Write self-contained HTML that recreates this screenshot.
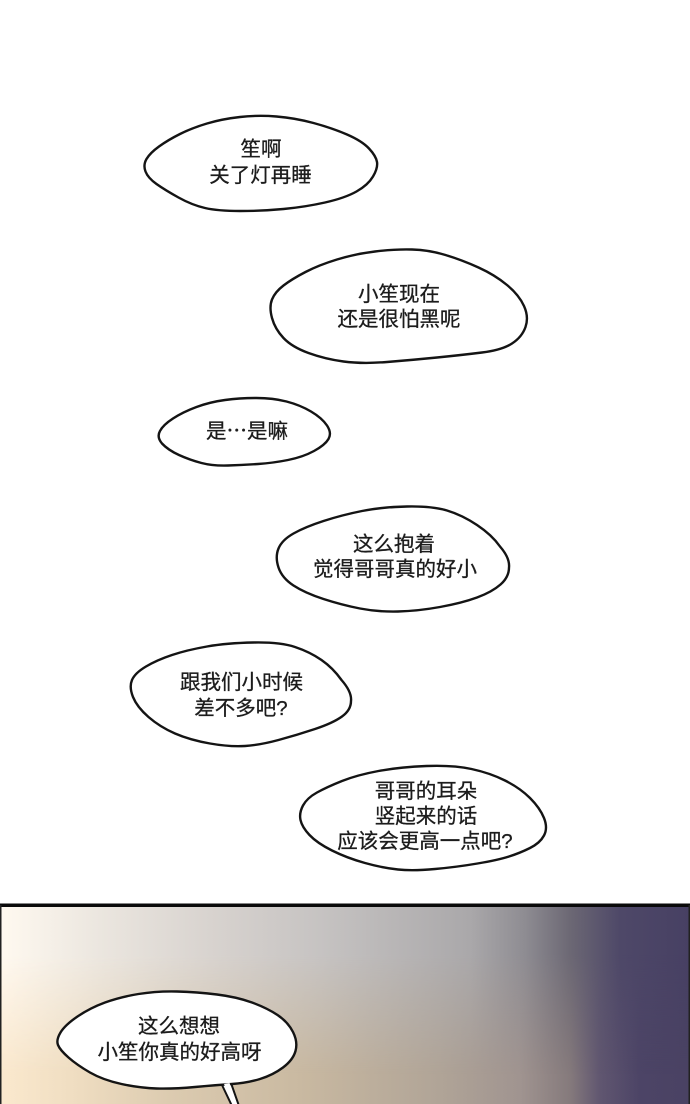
<!DOCTYPE html>
<html><head><meta charset="utf-8">
<style>
html,body{margin:0;padding:0;background:#fff}
#p{position:relative;width:690px;height:1104px;overflow:hidden;background:#fff}
.g{position:absolute;left:0;top:905px;width:690px;height:199px}
#b{background:linear-gradient(90deg,#fbe9ce 0,#f0dec2 70px,#dccbb0 170px,#c9b9a1 300px,#b0a497 440px,#a09490 520px,#857a7c 570px,#605670 600px,#4c4466 640px,#4a4263 690px)}
#t{background:linear-gradient(90deg,#fff9f0 0,#ebe6df 100px,#d8d3cf 210px,#c6c3c2 320px,#aaa8aa 470px,#8e8c92 525px,#6c6874 570px,#4e4868 620px,#474063 690px);
-webkit-mask-image:linear-gradient(180deg,#000 0,#000 25%,transparent 85%);mask-image:linear-gradient(180deg,#000 0,#000 25%,transparent 85%)}
svg{position:absolute;left:0;top:0}
text{font-family:"Liberation Sans","Noto Sans CJK SC",sans-serif;font-size:20.500px;fill:#1c1c1c;stroke:#1c1c1c;stroke-width:.3;text-anchor:middle}
.s{fill:#fff;stroke:#141414;stroke-width:2.400;stroke-linejoin:round}
</style></head><body><div id="p">
<div class="g" id="b"></div><div class="g" id="t"></div>
<svg width="690" height="1104" viewBox="0 0 690 1104">
<rect x="0" y="903.500" width="690" height="3.500" fill="#0a0a0a"/>
<rect x="0" y="905" width="1.500" height="199" fill="#222"/>
<rect x="688.500" y="905" width="1.500" height="199" fill="#222"/>

<path class="s" d="M145.500 171.500Q143 165 146.500 159Q150 153 159 146.500Q168 140 180 134Q192 128 207 123.500Q222 119 240 117Q258 115 276.500 116.500Q295 118 313.500 123Q332 128 347 134.500Q362 141 369 148.500Q376 156 377 162Q378 168 373 176.500Q368 185 356.500 191.500Q345 198 325 202.500Q305 207 283.500 209Q262 211 240 211Q218 211 205 208Q192 205 178.500 197.500Q165 190 156.500 184Q148 178 145.500 171.500Z"/>
<path class="s" d="M272 318Q269 307 272 299.500Q275 292 283.500 285.500Q292 279 305.500 272Q319 265 337 259.500Q355 254 375 251.500Q395 249 412 249.500Q429 250 445.500 255Q462 260 478.500 267.500Q495 275 507 285Q519 295 524 306Q529 317 525.500 327Q522 337 512 343.500Q502 350 482 352.500Q462 355 437 357.500Q412 360 387 362Q362 364 343.500 361.500Q325 359 308.500 353Q292 347 283.500 338Q275 329 272 318Z"/>
<path class="s" d="M162 443.500Q156.500 437 160 431Q163 425 173 418.500Q183 412 196.500 407Q210 402 225 400Q240 398 256.500 398Q273 398 286.500 401.500Q300 405 311 411.500Q322 418 327 425.500Q332 433 328.500 439Q325 445 314 451Q303 457 288 460Q273 463 258 464Q243 465 228 465.500Q213 466 201.500 463Q190 460 179 455Q168 450 162 443.500Z"/>
<path class="s" d="M278.500 567.500Q275 557 278.500 548.500Q282 540 293.500 533.500Q305 527 323.500 521Q342 515 362 511Q382 507 407 506.500Q432 506 447 510.500Q462 515 477 525Q492 535 500 546.500Q510 558 509 567.500Q509 577 500.500 584.500Q492 592 477 597.500Q462 603 440 607Q418 611 398 611.500Q378 612 360 608.500Q342 605 323.500 599Q305 593 293.500 585.500Q282 578 278.500 567.500Z"/>
<path class="s" d="M133 697Q129 687 132 680Q135 673 146 666.500Q157 660 172 655Q187 650 207 646.500Q227 643 253.500 642.500Q280 642 295 647Q310 652 321.500 660Q333 668 341.500 680Q352 692 351 701Q351 710 342 716.500Q333 723 315 729Q297 735 278.500 740Q260 745 245 746Q230 747 210 743.500Q190 740 175 733.500Q160 727 148.500 717Q137 707 133 697Z"/>
<path class="s" d="M300.500 820Q299 813 303 805.500Q307 798 317 792.500Q327 787 342 781Q357 775 378.500 771Q400 767 426.500 766Q453 765 471.500 769Q490 773 505 780.500Q520 788 530 798Q540 808 544 818Q548 828 544 835.500Q540 843 530 848Q520 853 509 856.500Q498 860 477.500 863.500Q457 867 435 869Q413 871 398 869.500Q383 868 365 863Q347 858 332 850.500Q317 843 309.500 835Q302 827 300.500 820Z"/>

<path d="M222 1085L232 1106L239 1106L231 1083Z" fill="#fff" stroke="#141414" stroke-width="2"/>
<path class="s" d="M58 1045Q56 1040 60.500 1032.500Q65 1025 77.500 1016.500Q90 1008 105 1002.500Q120 997 138.500 994Q157 991 177 991.500Q197 992 217 994.500Q237 997 252 1002.500Q267 1008 277.500 1015Q288 1022 293 1032Q298 1042 295.500 1051Q293 1060 283 1067.500Q273 1075 260 1079Q247 1083 232 1084Q217 1085 195 1087Q173 1089 156.500 1088.500Q140 1088 121.500 1084Q103 1080 90 1072.500Q77 1065 68.500 1057.500Q60 1050 58 1045Z"/>
<path d="M224 1084L233 1104L237 1104L229.500 1083Z" fill="#fff"/>

<text x="261" y="156">笙啊</text>
<text x="260.500" y="182">关了灯再睡</text>
<text x="399" y="301">小笙现在</text>
<text x="399" y="326">还是很怕黑呢</text>
<text x="247" y="438">是<tspan style="font-family:'Noto Sans CJK JP',sans-serif">…</tspan>是嘛</text>
<text x="394" y="551">这么抱着</text>
<text x="395" y="576">觉得哥哥真的好小</text>
<text x="241.500" y="689">跟我们小时候</text>
<text x="241" y="715">差不多吧?</text>
<text x="426" y="798">哥哥的耳朵</text>
<text x="426" y="823">竖起来的话</text>
<text x="425" y="848">应该会更高一点吧?</text>
<text x="179" y="1033">这么想想</text>
<text x="179.500" y="1059">小笙你真的好高呀</text>
</svg>
</div></body></html>
